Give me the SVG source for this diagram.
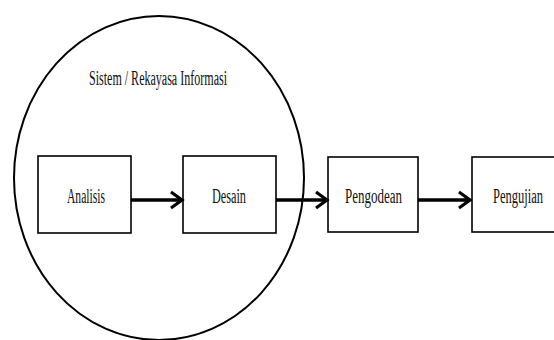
<svg xmlns="http://www.w3.org/2000/svg" width="554" height="340" viewBox="0 0 554 340">
<style>
.box{fill:#fff;stroke:#000;stroke-width:1.6}
.lbl{font-family:"Liberation Serif","Times New Roman",serif;font-size:20px;fill:#111}
.conn{stroke:#000;stroke-width:3.5;fill:none}
</style>
<defs>
<marker id="ah" markerUnits="userSpaceOnUse" markerWidth="16" markerHeight="20" refX="12" refY="10" orient="auto">
<path d="M1,2 L12,10 L1,18" fill="none" stroke="#000" stroke-width="3.2" stroke-linejoin="miter"/>
</marker>
</defs>
<rect width="554" height="340" fill="#fff"/>
<g id="system">
<ellipse cx="159" cy="178" rx="145" ry="162" fill="none" stroke="#000" stroke-width="2"/>
<text class="lbl" x="89" y="85" textLength="138" lengthAdjust="spacingAndGlyphs">Sistem / Rekayasa Informasi</text>
</g>
<g id="analisis">
<rect class="box" x="38" y="156" width="93" height="77"/>
<text class="lbl" x="67" y="203" textLength="38" lengthAdjust="spacingAndGlyphs">Analisis</text>
</g>
<g id="desain">
<rect class="box" x="183" y="156" width="93" height="77"/>
<text class="lbl" x="212" y="203" textLength="34" lengthAdjust="spacingAndGlyphs">Desain</text>
</g>
<g id="pengodean">
<rect class="box" x="328" y="157" width="90" height="75"/>
<text class="lbl" x="345" y="203" textLength="57" lengthAdjust="spacingAndGlyphs">Pengodean</text>
</g>
<g id="pengujian">
<rect class="box" x="472" y="157" width="90" height="75"/>
<text class="lbl" x="493" y="203" textLength="50" lengthAdjust="spacingAndGlyphs">Pengujian</text>
</g>
<g id="connectors">
<line class="conn" x1="131" y1="200" x2="182" y2="200" marker-end="url(#ah)"/>
<line class="conn" x1="276" y1="200" x2="327" y2="200" marker-end="url(#ah)"/>
<line class="conn" x1="418" y1="200" x2="470" y2="200" marker-end="url(#ah)"/>
</g>
</svg>
